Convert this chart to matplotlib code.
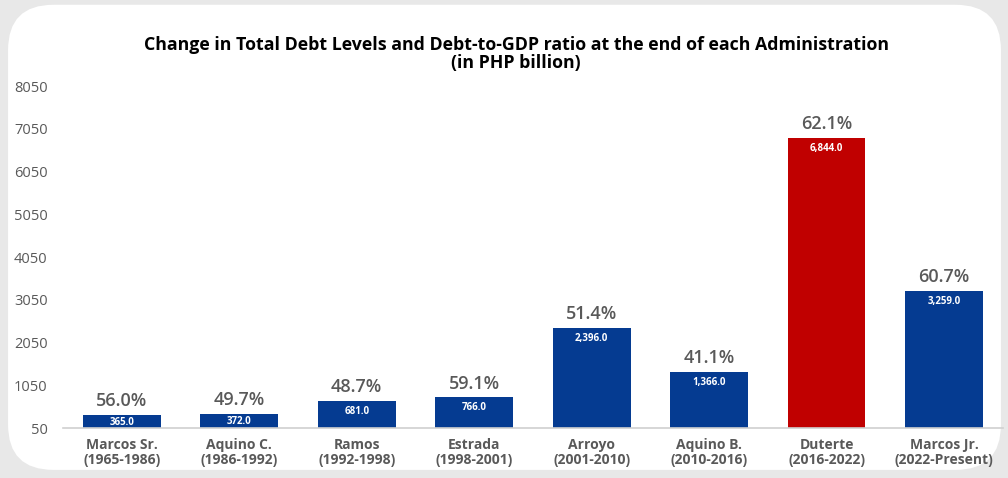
import matplotlib
matplotlib.use("Agg")
import matplotlib.pyplot as plt
from matplotlib.patches import FancyBboxPatch

# data
admins = ["Marcos Sr.\n(1965-1986)", "Aquino C.\n(1986-1992)", "Ramos\n(1992-1998)",
          "Estrada\n(1998-2001)", "Arroyo\n(2001-2010)", "Aquino B.\n(2010-2016)",
          "Duterte\n(2016-2022)", "Marcos Jr.\n(2022-Present)"]
debt_change = [365.0, 372.0, 681.0, 766.0, 2396.0, 1366.0, 6844.0, 3259.0]
debt_to_gdp = [56.0, 49.7, 48.7, 59.1, 51.4, 41.1, 62.1, 60.7]
yticks = [50, 1050, 2050, 3050, 4050, 5050, 6050, 7050, 8050]

BLUE = "#053b91"
RED = "#c00000"
GRAY = "#595959"

plt.rcParams['font.family'] = ['Open Sans', 'DejaVu Sans']

fig = plt.figure(figsize=(10.08, 4.78), dpi=100)
fig.patch.set_facecolor("#e8e8e8")

# white rounded card behind the chart
card = FancyBboxPatch((0.008, 0.017), 0.985, 0.973, boxstyle="round,pad=0,rounding_size=0.045",
                      transform=fig.transFigure, facecolor="white", edgecolor="none",
                      mutation_aspect=1008/478, zorder=-10)
fig.patches.append(card)

ax = fig.add_axes([0.0625, 0.1046, 0.9325, 0.7154])
ax.set_facecolor("none")

base = yticks[0]
colors = [RED if a.startswith("Duterte") else BLUE for a in admins]
x = range(len(admins))
heights = [v - base for v in debt_change]
bars = ax.bar(x, heights, bottom=base, width=0.66, color=colors, zorder=2)

for b, v, p in zip(bars, debt_change, debt_to_gdp):
    cx = b.get_x() + b.get_width() / 2
    # value label sits near the top, or in the middle for short bars
    ly = max(v - 245, (v + base) / 2 - 20)
    ax.text(cx, ly, f"{v:,.1f}", ha="center", va="center", color="white",
            fontsize=7, fontweight="bold")
    ax.annotate(f"{p:.1f}%", (cx, v), xytext=(0, 10), textcoords="offset points",
                ha="center", va="center", color=GRAY, fontsize=13, fontweight="semibold")

ax.set_ylim(base, yticks[-1])
ax.set_xlim(-0.5, len(admins) - 0.5)
ax.set_yticks(yticks)
ax.set_yticklabels([str(t) for t in yticks], fontsize=10.5, color=GRAY)
ax.tick_params(axis="y", length=0, pad=11)
ax.set_xticks(list(x))
ax.set_xticklabels(admins, fontsize=10, fontweight="bold", color=GRAY, linespacing=1.15)
ax.tick_params(axis="x", length=0, pad=7)

for s in ["top", "right", "left"]:
    ax.spines[s].set_visible(False)
ax.spines["bottom"].set_color("#d0d0d0")
ax.spines["bottom"].set_linewidth(1.2)

fig.text(0.512, 0.887, "Change in Total Debt Levels and Debt-to-GDP ratio at the end of each Administration\n(in PHP billion)",
         ha="center", va="center", fontsize=12.8, fontweight="bold", color="black", linespacing=1.02)

fig.savefig("out.png", dpi=100, facecolor=fig.get_facecolor())
